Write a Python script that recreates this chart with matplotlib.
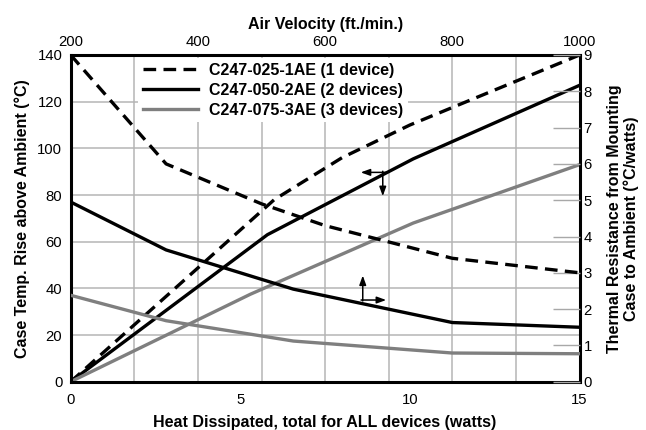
import matplotlib
matplotlib.use("Agg")
import matplotlib.pyplot as plt
import numpy as np

plt.rcParams['font.family'] = ['Liberation Sans', 'DejaVu Sans']

# thermal resistance vs air velocity (top / right axes)
velocity_025 = [200, 350, 500, 600, 700, 800, 1000]
resist_025 = [9.0, 6.0, 4.9, 4.3, 3.85, 3.4, 3.0]
velocity_050 = [200, 350, 550, 800, 1000]
resist_050 = [4.95, 3.63, 2.55, 1.63, 1.5]
velocity_075 = [200, 350, 550, 800, 1000]
resist_075 = [2.38, 1.68, 1.12, 0.79, 0.77]

# case temperature rise vs heat dissipated (bottom / left axes)
watts_025 = [0, 6, 8, 10, 15]
temp_025 = [0, 78, 96, 110, 140]
watts_050 = [0, 5.8, 10.1, 15]
temp_050 = [0, 63, 95.5, 127]
watts_075 = [0, 5.3, 10.1, 15]
temp_075 = [0, 37.5, 68, 93]

labels = ['C247-025-1AE (1 device)', 'C247-050-2AE (2 devices)', 'C247-075-3AE (3 devices)']

watt_ticks = [0, 5, 10, 15]
temp_ticks = list(range(0, 141, 20))
vel_ticks = [200, 400, 600, 800, 1000]
vel_grid = list(range(300, 1000, 100))
res_ticks = list(range(0, 10))

grey = '#7f7f7f'
gridc = '#b5b5b5'
lw = 2.4
dash = (0, (3.8, 2.2))

fig = plt.figure(figsize=(6.46, 4.30), dpi=100)
pos = [70.7 / 646, 1 - 381.7 / 430, (579.5 - 70.7) / 646, (381.7 - 55) / 430]
ax = fig.add_axes(pos)
ax2 = fig.add_axes(pos, frameon=False)

# bottom/left axes
ax.plot(watts_025, temp_025, color='black', lw=lw, linestyle=dash)
ax.plot(watts_050, temp_050, color='black', lw=lw)
ax.plot(watts_075, temp_075, color=grey, lw=lw)
ax.set_xlim(0, 15)
ax.set_ylim(0, 140)
ax.set_xticks(watt_ticks)
ax.set_xticks([(v - 200) / 800 * 15 for v in vel_grid], minor=True)
ax.set_yticks(temp_ticks)
ax.grid(True, which='minor', axis='x', color=gridc, lw=1.1)
ax.grid(True, which='major', axis='y', color=gridc, lw=1.1)
ax.tick_params(which='both', length=0, labelsize=10.7, pad=6)
ax.tick_params(axis='x', pad=8)
for s in ax.spines.values():
    s.set_linewidth(2.2)
ax.set_xlabel('Heat Dissipated, total for ALL devices (watts)', fontsize=11.5,
              fontweight='bold', labelpad=6)
ax.set_ylabel('Case Temp. Rise above Ambient (°C)', fontsize=11.5,
              fontweight='bold', labelpad=5)

# top/right axes
ax2.patch.set_visible(False)
h1, = ax2.plot(velocity_025, resist_025, color='black', lw=lw, linestyle=dash)
h2, = ax2.plot(velocity_050, resist_050, color='black', lw=lw)
h3, = ax2.plot(velocity_075, resist_075, color=grey, lw=lw)
ax2.set_xlim(200, 1000)
ax2.set_ylim(0, 9)
ax2.xaxis.tick_top()
ax2.xaxis.set_label_position('top')
ax2.yaxis.tick_right()
ax2.yaxis.set_label_position('right')
ax2.set_xticks(vel_ticks)
ax2.set_yticks(res_ticks)
ax2.tick_params(axis='x', length=0, labelsize=10.7, pad=4)
ax2.tick_params(axis='y', direction='in', length=19.5, width=1.0, color='#a8a8a8',
                labelsize=10.7, pad=3)
ax2.set_xlabel('Air Velocity (ft./min.)', fontsize=11.5, fontweight='bold', labelpad=5)
ax2.set_ylabel('Thermal Resistance from Mounting\nCase to Ambient (°C/watts)',
               fontsize=11.5, fontweight='bold', labelpad=11, multialignment='center',
               linespacing=1.05)

# direction arrows
ap = dict(arrowstyle='-|>,head_length=0.55,head_width=0.2', color='black', lw=1.1,
          shrinkA=0, shrinkB=0)
ax.annotate('', xy=(8.55, 89.7), xytext=(9.3, 89.7), arrowprops=ap)
ax.annotate('', xy=(9.2, 79.5), xytext=(9.2, 90.2), arrowprops=ap)
ax.annotate('', xy=(8.61, 45.5), xytext=(8.61, 34.6), arrowprops=ap)
ax.annotate('', xy=(9.3, 35.0), xytext=(8.56, 35.0), arrowprops=ap)

leg = ax2.legend([h1, h2, h3], labels, loc='upper left', bbox_to_anchor=(0.132, 0.99),
                 borderaxespad=0, borderpad=0.3, handlelength=3.44, handletextpad=0.69,
                 labelspacing=0.3, frameon=True, fancybox=False,
                 prop={'size': 11.5, 'weight': 'bold'})
leg.get_frame().set_facecolor('white')
leg.get_frame().set_edgecolor('none')
leg.get_frame().set_alpha(1)

plt.savefig('out.png', dpi=100)
